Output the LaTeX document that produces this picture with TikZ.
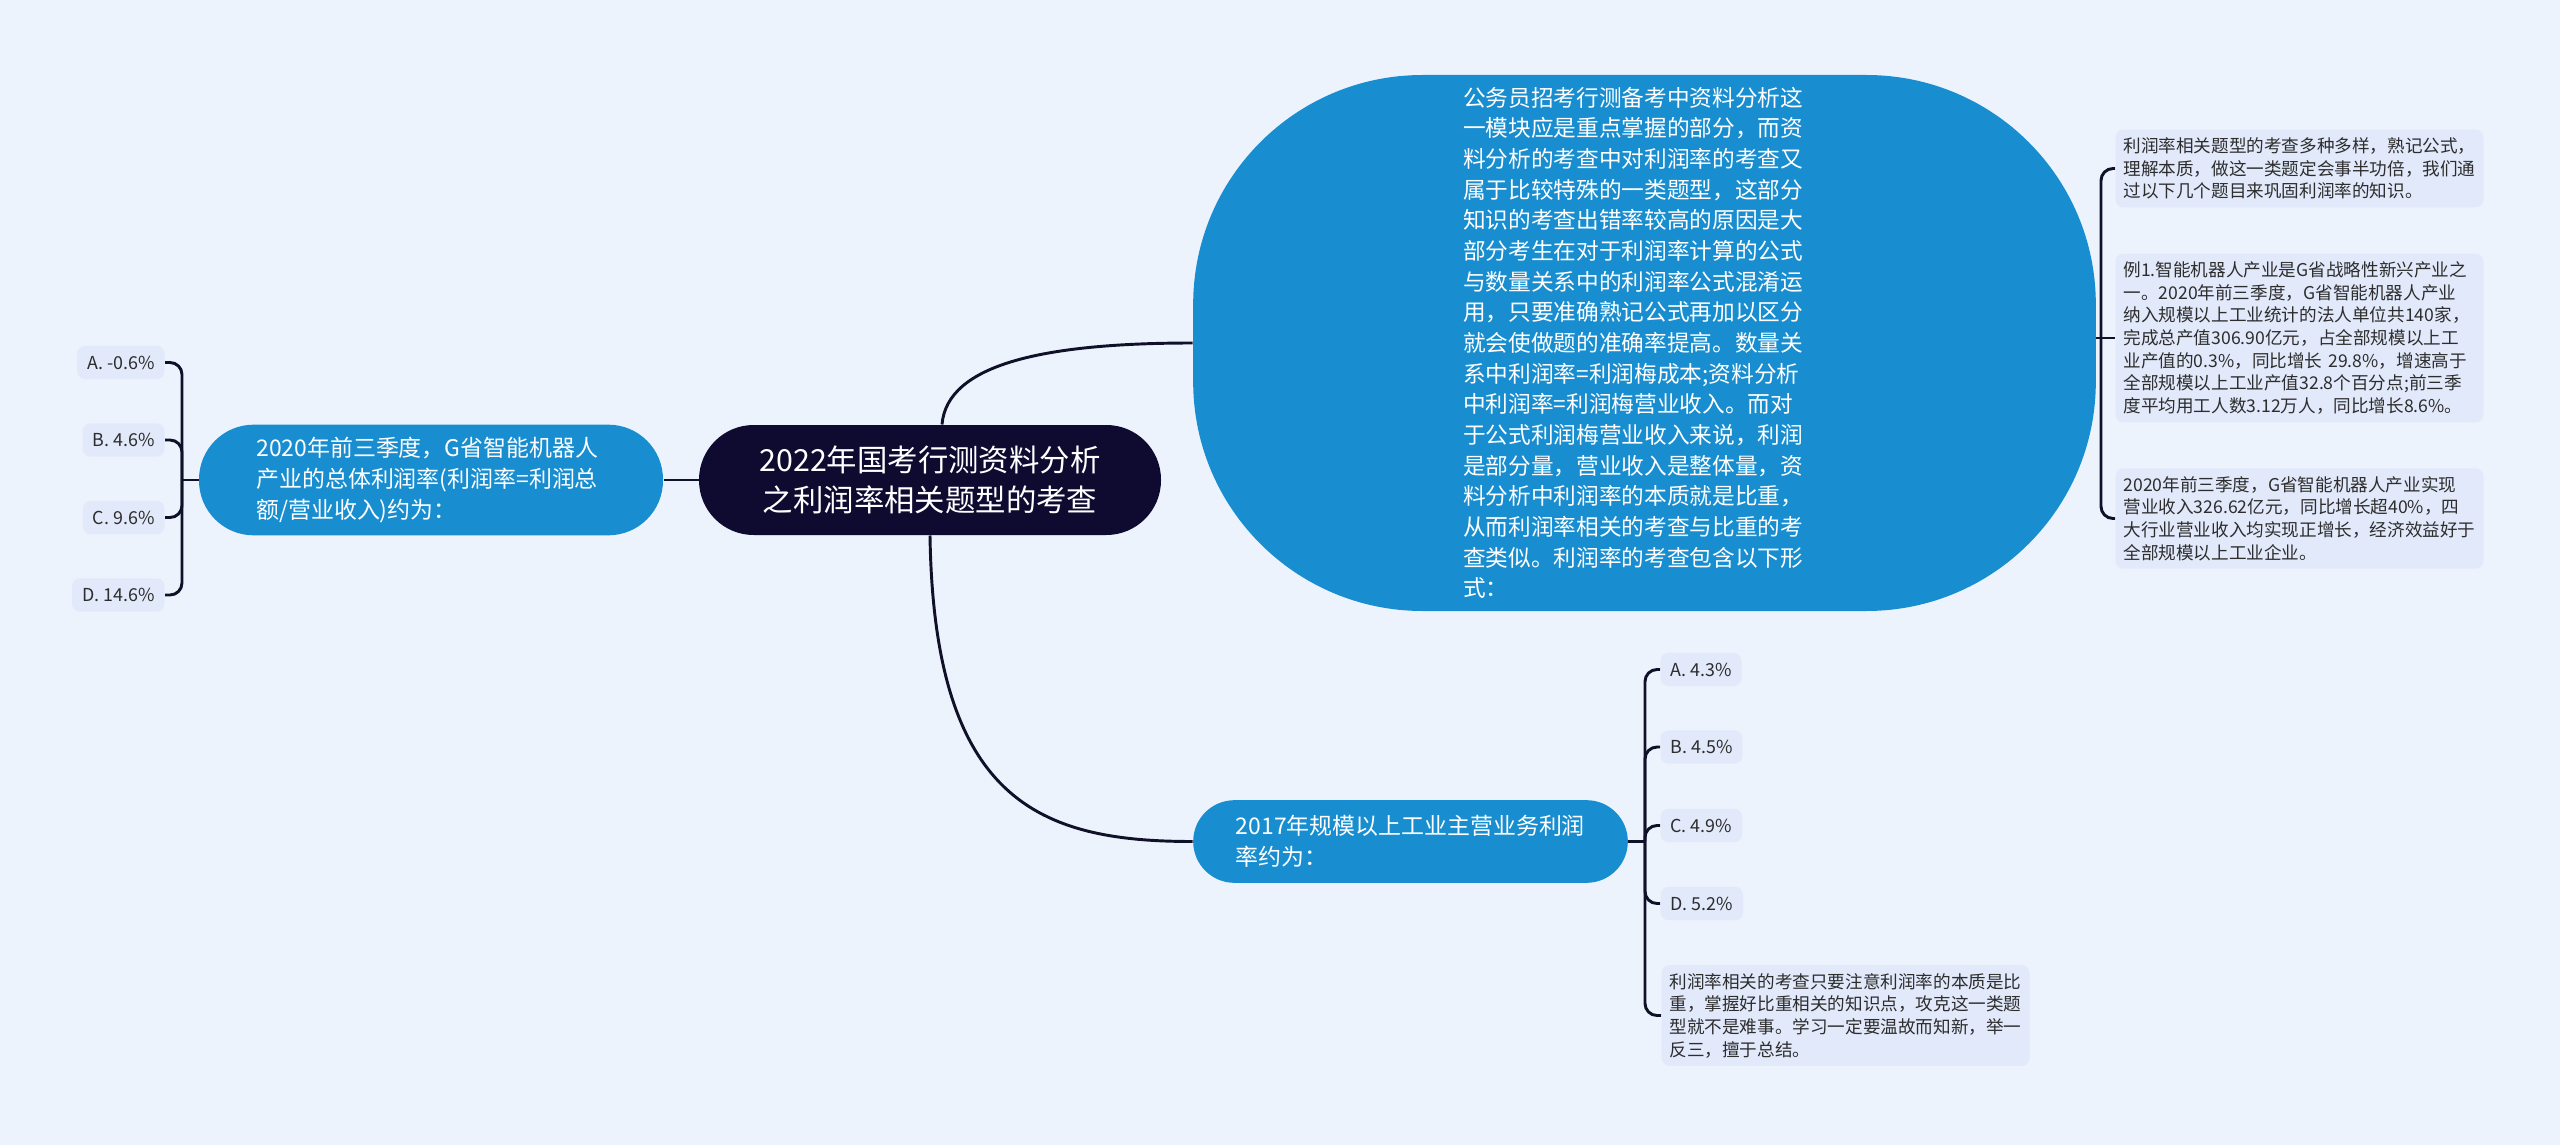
\documentclass[tikz,border=0pt]{standalone}
\usepackage{fontspec}
\setmainfont{Noto Sans CJK SC}
\usetikzlibrary{backgrounds}

\definecolor{pagebg}{RGB}{237,243,253}
\definecolor{rootfill}{RGB}{14,10,48}
\definecolor{topicblue}{RGB}{24,142,208}
\definecolor{leaffill}{RGB}{225,233,250}
\definecolor{linkcol}{RGB}{16,16,40}
\definecolor{leaftext}{RGB}{45,45,45}

\tikzset{every picture/.style={line width=0.75pt}}
\tikzset{
  rootnode/.style={fill=rootfill, text=white, rounded corners=41pt, minimum width=346.5pt, minimum height=82.5pt, align=center, inner sep=0pt, font=\fontsize{22.8}{30}\selectfont},
  topic/.style={fill=topicblue, text=white, align=left, inner sep=0pt, font=\fontsize{17.2}{23}\selectfont},
  leaf/.style={fill=leaffill, text=leaftext, rounded corners=6pt, inner xsep=7.5pt, minimum height=25pt, font=\fontsize{13.4}{17}\selectfont},
  notebox/.style={leaf, align=left, text width=264pt, inner xsep=6pt, inner ysep=6pt, font=\fontsize{13.2}{17}\selectfont},
  link/.style={draw=linkcol, line width=2.2pt},
  brace/.style={link, rounded corners=9pt},
}

\begin{document}
\begin{tikzpicture}[x=0.75pt,y=0.75pt,yscale=-1,xscale=1]
\useasboundingbox (0,0) rectangle (2560,1145);

% Text Node
\node [rootnode] (root) at (930,480) {2022年国考行测资料分析\\之利润率相关题型的考查};
% Text Node
\node [topic, minimum width=348pt, minimum height=83pt, rounded corners=41pt, text width=262pt] (q1) at (431,480) {2020年前三季度，G省智能机器人\\产业的总体利润率(利润率=利润总\\额/营业收入)约为：};
% Text Node
\node [topic, minimum width=677pt, minimum height=402pt, rounded corners=172pt, text width=272pt, font=\fontsize{17}{23}\selectfont] (intro) at (1644.5,343) {公务员招考行测备考中资料分析这\\一模块应是重点掌握的部分，而资\\料分析的考查中对利润率的考查又\\属于比较特殊的一类题型，这部分\\知识的考查出错率较高的原因是大\\部分考生在对于利润率计算的公式\\与数量关系中的利润率公式混淆运\\用，只要准确熟记公式再加以区分\\就会使做题的准确率提高。数量关\\系中利润率=利润梅成本;资料分析\\中利润率=利润梅营业收入。而对\\于公式利润梅营业收入来说，利润\\是部分量，营业收入是整体量，资\\料分析中利润率的本质就是比重，\\从而利润率相关的考查与比重的考\\查类似。利润率的考查包含以下形\\式：};
% Text Node
\node [topic, minimum width=326pt, minimum height=62pt, rounded corners=31pt, text width=262pt] (q2) at (1410.5,841.5) {2017年规模以上工业主营业务利润\\率约为：};

%Left options
\node [leaf, anchor=east] (la) at (165,362.5) {A. -0.6\%};
\node [leaf, anchor=east] (lb) at (165,440) {B. 4.6\%};
\node [leaf, anchor=east] (lc) at (165,517.5) {C. 9.6\%};
\node [leaf, anchor=east] (ld) at (165,595) {D. 14.6\%};

%Right options
\node [leaf, anchor=west] (ra) at (1660,669.5) {A. 4.3\%};
\node [leaf, anchor=west] (rb) at (1660,747) {B. 4.5\%};
\node [leaf, anchor=west] (rc) at (1660,825.5) {C. 4.9\%};
\node [leaf, anchor=west] (rd) at (1660,903.5) {D. 5.2\%};
% Text Node
\node [notebox, anchor=west] (n4) at (1661,1015.5) {利润率相关的考查只要注意利润率的本质是比\\重，掌握好比重相关的知识点，攻克这一类题\\型就不是难事。学习一定要温故而知新，举一\\反三，擅于总结。};

%Notes
\node [notebox, anchor=west] (n1) at (2115,168.5) {利润率相关题型的考查多种多样，熟记公式，\\理解本质，做这一类题定会事半功倍，我们通\\过以下几个题目来巩固利润率的知识。};
\node [notebox, anchor=west] (n2) at (2115,338) {例1.智能机器人产业是G省战略性新兴产业之\\一。2020年前三季度，G省智能机器人产业\\纳入规模以上工业统计的法人单位共140家，\\完成总产值306.90亿元，占全部规模以上工\\业产值的0.3\%，同比增长 29.8\%，增速高于\\全部规模以上工业产值32.8个百分点;前三季\\度平均用工人数3.12万人，同比增长8.6\%。};
\node [notebox, anchor=west] (n3) at (2115,518.5) {2020年前三季度，G省智能机器人产业实现\\营业收入326.62亿元，同比增长超40\%，四\\大行业营业收入均实现正增长，经济效益好于\\全部规模以上工业企业。};

\coordinate (jl) at (182,480);
\coordinate (jq) at (1645,841.5);
\coordinate (jr) at (2101,338);

\begin{pgfonlayer}{background}
\fill [pagebg] (0,0) rectangle (2560,1145);
%Straight Lines
\draw [link] (root.west) -- (q1.east);
\draw [link] ([xshift=9pt]root.north) .. controls +(5,-60) and +(-150,0) .. (intro.west);
\draw [link] (root.south) .. controls +(4,266) and +(-153,0) .. (q2.west);
%Brackets
\draw [link] (q1.west) -- (jl);
\foreach \o in {la,lb,lc,ld} \draw [brace] (jl) |- (\o.east);
\draw [link] (q2.east) -- (jq);
\foreach \o in {ra,rb,rc,rd,n4} \draw [brace] (jq) |- (\o.west);
\draw [link] (intro.east |- jr) -- (jr);
\draw [link] (jr) -- (n2.west);
\foreach \o in {n1,n3} \draw [brace] (jr) |- (\o.west);
\end{pgfonlayer}

\end{tikzpicture}
\end{document}
